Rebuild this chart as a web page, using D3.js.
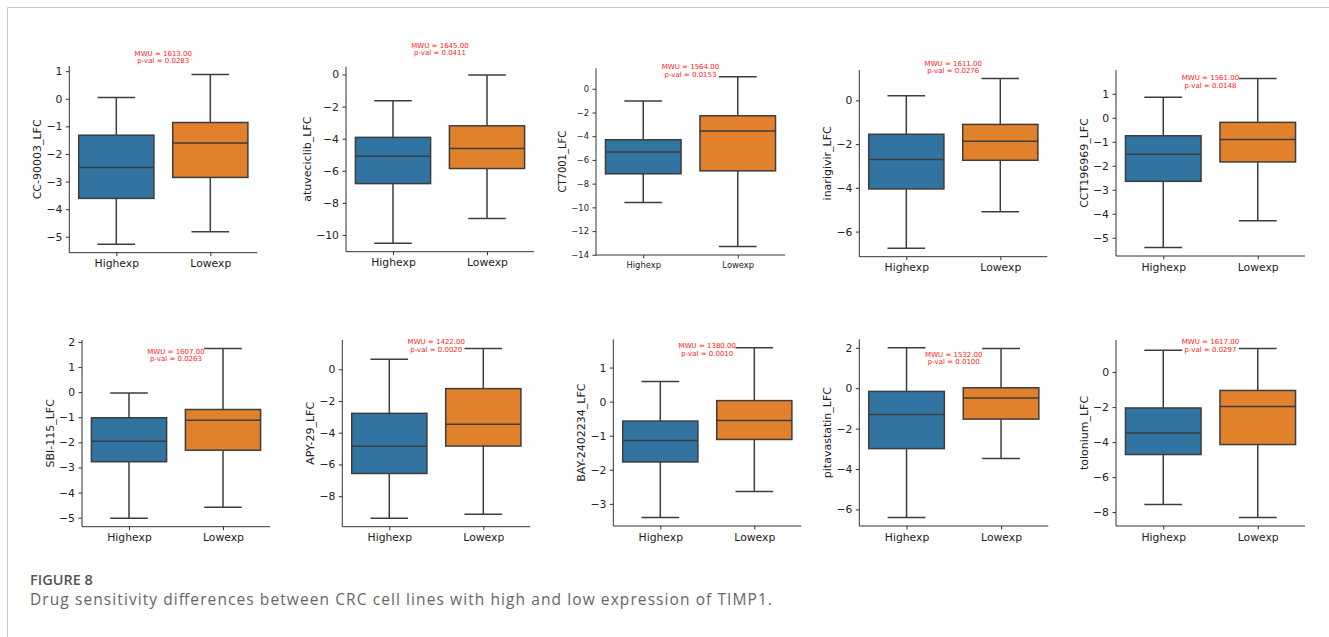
<!DOCTYPE html>
<html><head><meta charset="utf-8">
<script src="https://cdnjs.cloudflare.com/ajax/libs/d3/7.8.5/d3.min.js"></script>
<style>
html,body{margin:0;padding:0;background:#fff;}
svg{display:block;}
</style></head>
<body>
<script>
// ---------- data ----------
const drugs = ["CC-90003","atuveciclib","CT7001","inarigivir","CCT196969",
               "SBI-115","APY-29","BAY-2402234","pitavastatin","tolonium"];
const groups = ["Highexp","Lowexp"];
// five-number summaries: [lower whisker, Q1, median, Q3, upper whisker]
const highStats = [
  [-5.27,-3.61,-2.49,-1.32,0.05],
  [-10.52,-6.80,-5.09,-3.92,-1.63],
  [-9.59,-7.17,-5.34,-4.30,-1.04],
  [-6.76,-4.05,-2.70,-1.55,0.21],
  [-5.41,-2.65,-1.52,-0.75,0.86],
  [-5.02,-2.77,-1.95,-1.02,-0.03],
  [-9.39,-6.57,-4.86,-2.78,0.63],
  [-3.40,-1.77,-1.14,-0.57,0.59],
  [-6.40,-2.99,-1.30,-0.16,2.00],
  [-7.57,-4.71,-3.48,-2.05,1.25]
];
const lowStats = [
  [-4.82,-2.85,-1.60,-0.86,0.88],
  [-8.97,-5.86,-4.62,-3.20,-0.04],
  [-13.30,-6.92,-3.57,-2.28,1.01],
  [-5.09,-2.74,-1.87,-1.10,1.00],
  [-4.29,-1.84,-0.90,-0.19,1.64],
  [-4.58,-2.31,-1.12,-0.69,1.74],
  [-9.14,-4.84,-3.47,-1.22,1.31],
  [-2.64,-1.11,-0.55,0.03,1.58],
  [-3.48,-1.53,-0.49,0.02,1.96],
  [-8.31,-4.14,-1.96,-1.05,1.35]
];
const mwuValues = ["1613.00","1645.00","1564.00","1611.00","1561.00",
                   "1607.00","1422.00","1380.00","1532.00","1617.00"];
const pValues = ["0.0283","0.0411","0.0153","0.0276","0.0148",
                 "0.0263","0.0020","0.0010","0.0100","0.0297"];
// annotation height (data units, p-val line)
const annotY = [1.37,1.34,1.24,1.35,1.36,1.33,1.26,1.41,1.30,1.31];
const yTicks = [
  [-5,-4,-3,-2,-1,0,1],
  [-10,-8,-6,-4,-2,0],
  [-14,-12,-10,-8,-6,-4,-2,0],
  [-6,-4,-2,0],
  [-5,-4,-3,-2,-1,0,1],
  [-5,-4,-3,-2,-1,0,1,2],
  [-8,-6,-4,-2,0],
  [-3,-2,-1,0,1],
  [-6,-4,-2,0,2],
  [-8,-6,-4,-2,0]
];
const captionTitle = "FIGURE 8";
const captionText = "Drug sensitivity differences between CRC cell lines with high and low expression of TIMP1.";

// ---------- layout ----------
const W = 1329, H = 637;
const panelLayout = [
  {x:69.3, top:66,   bottom:252.7, w:188, tick:10.8, label:11},
  {x:346,  top:66.7, bottom:251.7, w:188, tick:10.8, label:11},
  {x:596,  top:68.3, bottom:255,   w:189, tick:8.4,  label:10},
  {x:859.3,top:70,   bottom:256.7, w:188, tick:10.8, label:11},
  {x:1116, top:70,   bottom:256,   w:189, tick:10.8, label:11},
  {x:82,   top:340,  bottom:526.7, w:188, tick:10.8, label:11},
  {x:342.3,top:340,  bottom:526.7, w:188, tick:10.8, label:11},
  {x:613.3,top:339.3,bottom:526,   w:188, tick:10.8, label:11},
  {x:859.3,top:339.3,bottom:526,   w:189, tick:10.8, label:11},
  {x:1116, top:340,  bottom:526,   w:189, tick:10.8, label:11}
];
const colors = ["#3274a1","#e1812c"];
const lineColor = "#3d3d3d";
const font = "'DejaVu Sans', sans-serif";

const svg = d3.select("body").append("svg").attr("width",W).attr("height",H);
svg.append("rect").attr("width",W).attr("height",H).attr("fill","#fff");
// frame
svg.append("path").attr("d",`M7.5,${H} V7.5 H${W}`)
  .attr("fill","none").attr("stroke","#c8c8c8").attr("stroke-width",1);

drugs.forEach((drug,i)=>{
  const L = panelLayout[i];
  const stats = [highStats[i], lowStats[i]];
  const all = stats.flat();
  const mn = d3.min(all), mx = d3.max(all), pad = (mx-mn)*0.05;
  const y = d3.scaleLinear().domain([mn-pad, mx+pad]).range([L.bottom, L.top]);
  const x = d3.scalePoint().domain(groups).range([L.x, L.x+L.w]).padding(0.5);
  const step = x.step();
  const bw = step*0.8;
  const g = svg.append("g");

  groups.forEach((grp,j)=>{
    const s = stats[j];
    const cx = x(grp);
    const gg = g.append("g");
    gg.append("line").attr("x1",cx).attr("x2",cx).attr("y1",y(s[3])).attr("y2",y(s[4]))
      .attr("stroke",lineColor).attr("stroke-width",1.5);
    gg.append("line").attr("x1",cx).attr("x2",cx).attr("y1",y(s[1])).attr("y2",y(s[0]))
      .attr("stroke",lineColor).attr("stroke-width",1.5);
    [s[0],s[4]].forEach(v=>{
      gg.append("line").attr("x1",cx-bw/4).attr("x2",cx+bw/4).attr("y1",y(v)).attr("y2",y(v))
        .attr("stroke",lineColor).attr("stroke-width",1.5);
    });
    gg.append("rect").attr("x",cx-bw/2).attr("y",y(s[3])).attr("width",bw)
      .attr("height",y(s[1])-y(s[3])).attr("fill",colors[j])
      .attr("stroke",lineColor).attr("stroke-width",1.5);
    gg.append("line").attr("x1",cx-bw/2).attr("x2",cx+bw/2).attr("y1",y(s[2])).attr("y2",y(s[2]))
      .attr("stroke",lineColor).attr("stroke-width",1.5);
  });

  const yAxis = g.append("g").attr("transform",`translate(${L.x},0)`)
    .call(d3.axisLeft(y).tickValues(yTicks[i]).tickFormat(d3.format("d")).tickSizeOuter(0).tickSize(3.5).tickPadding(3.5));
  const xAxis = g.append("g").attr("transform",`translate(0,${L.bottom})`)
    .call(d3.axisBottom(x).tickSizeOuter(0).tickSize(3.5).tickPadding(3.5));
  [yAxis,xAxis].forEach(a=>{
    a.select(".domain").attr("stroke","#333").attr("stroke-width",1);
    a.selectAll(".tick line").attr("stroke","#333").attr("stroke-width",1);
    a.selectAll(".tick text").attr("fill","#222").style("font-family",font).style("font-size",L.tick+"px");
  });
  xAxis.select(".domain").attr("d",`M${L.x},0H${L.x+L.w}`);
  yAxis.select(".domain").attr("d",`M0,${L.bottom}V${L.top}`);

  const bb = yAxis.node().getBBox();
  g.append("text")
    .attr("transform",`translate(${L.x + bb.x - 5},${(L.top+L.bottom)/2}) rotate(-90)`)
    .attr("text-anchor","middle")
    .style("font-family",font).style("font-size",L.label+"px").attr("fill","#222")
    .text(drug + "_LFC");

  const ax = L.x + L.w/2, ay = y(annotY[i]);
  const t = g.append("text").attr("text-anchor","middle")
    .style("font-family",font).style("font-size","7px").attr("fill","#ff2020");
  t.append("tspan").attr("x",ax).attr("y",ay - 7.7 + 2.5).text("MWU = " + mwuValues[i]);
  t.append("tspan").attr("x",ax).attr("y",ay + 2.5).text("p-val = " + pValues[i]);
});

// caption
svg.append("text").attr("x",30).attr("y",585)
  .style("font-family","'Open Sans', sans-serif").style("font-size","14.5px").style("font-weight",600)
  .attr("fill","#555").text(captionTitle);
svg.append("text").attr("x",30).attr("y",604.5)
  .style("font-family","'Open Sans', sans-serif").style("font-size","15.5px")
  .attr("fill","#666").attr("textLength",742).attr("lengthAdjust","spacing").text(captionText);
</script>
</body></html>
